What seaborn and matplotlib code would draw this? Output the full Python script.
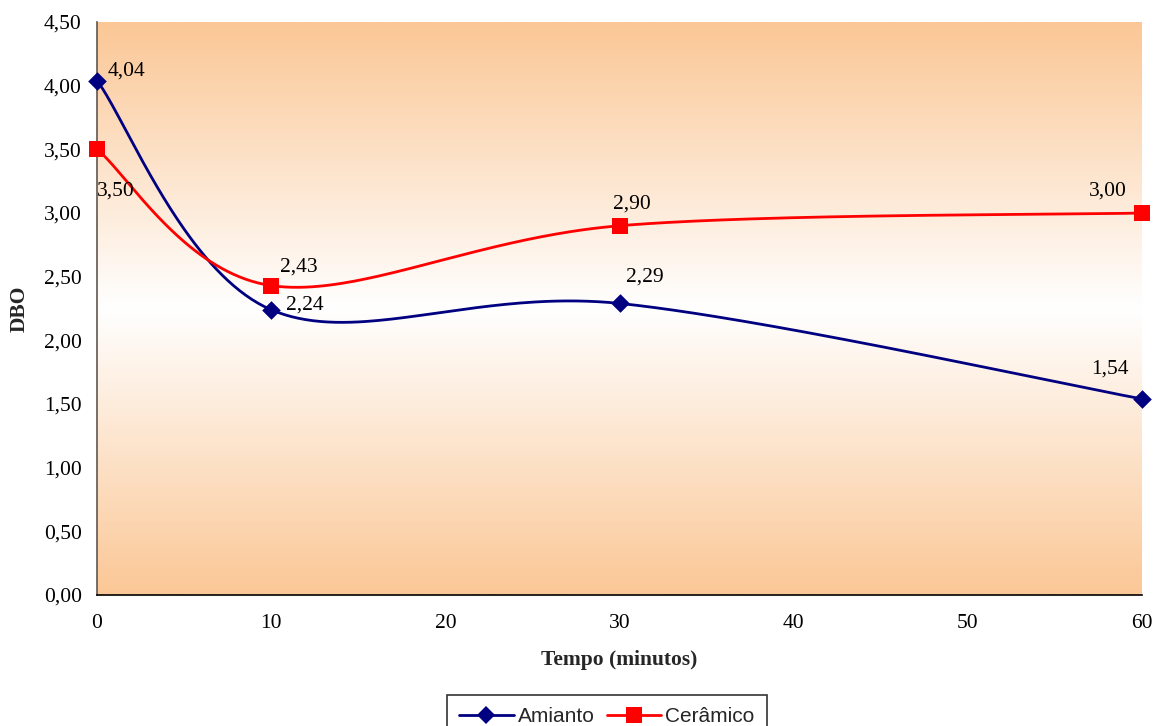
import numpy as np
import matplotlib
matplotlib.use('Agg')
import matplotlib.pyplot as plt
import seaborn as sns
from matplotlib.lines import Line2D
from matplotlib.colors import LinearSegmentedColormap

# ---- data ----
tempo = [0, 10, 30, 60]
amianto = [4.04, 2.24, 2.29, 1.54]
ceramico = [3.50, 2.43, 2.90, 3.00]
series_names = ['Amianto', 'Cerâmico']
yticks = [0.0, 0.5, 1.0, 1.5, 2.0, 2.5, 3.0, 3.5, 4.0, 4.5]
xticks = [0, 10, 20, 30, 40, 50, 60]
xlabel = 'Tempo (minutos)'
ylabel = 'DBO'

sns.set_theme(style='white')
plt.rcParams['font.family'] = ['Liberation Serif', 'DejaVu Serif']

FS = 15.5

fig = plt.figure(figsize=(11.55, 7.26), dpi=100)
ax = fig.add_axes([97/1155, 1-595/726, (1142-97)/1155, (595-22)/726])
ax.set_xlim(0, 60)
ax.set_ylim(0, 4.5)

# gradient background
cmap = LinearSegmentedColormap.from_list('g', ['#FBC796', '#FFFFFF', '#FBC796'])
grad = np.linspace(0, 1, 256).reshape(-1, 1)
ax.imshow(grad, cmap=cmap, aspect='auto', extent=[0, 60, 0, 4.5], zorder=0)


def smooth(xs, ys, n=80):
    pts = ax.transData.transform(np.column_stack([xs, ys]))
    P = np.vstack([pts[0], pts, pts[-1]])
    out = []
    t = np.linspace(0, 1, n)[:, None]
    for i in range(1, len(P) - 2):
        p0, p1, p2, p3 = P[i - 1], P[i], P[i + 1], P[i + 2]
        c1 = p1 + (p2 - p0) / 6
        c2 = p2 - (p3 - p1) / 6
        seg = (1 - t) ** 3 * p1 + 3 * (1 - t) ** 2 * t * c1 + 3 * (1 - t) * t ** 2 * c2 + t ** 3 * p2
        out.append(seg)
    out = np.vstack(out)
    return ax.transData.inverted().transform(out)


colors = ['#000080', '#FF0000']
markers = ['D', 's']
sizes = [90, 130]
for vals, c, m, s in zip([amianto, ceramico], colors, markers, sizes):
    sm = smooth(tempo, vals)
    ax.plot(sm[:, 0], sm[:, 1], color=c, lw=2, zorder=3, solid_capstyle='round')
    sns.scatterplot(x=tempo, y=vals, marker=m, color=c, s=s, edgecolor=c,
                    linewidth=0, ax=ax, zorder=4, clip_on=False)

# data labels (pixel offsets)
offs_a = [(29, -10), (34, -5), (25, -26), (-32, -30)]
offs_c = [(19, 42), (28, -19), (12, -22), (-34, -22)]
for vals, offs in [(amianto, offs_a), (ceramico, offs_c)]:
    for x, y, (dx, dy) in zip(tempo, vals, offs):
        ax.annotate(f'{y:.2f}'.replace('.', ','), (x, y), xytext=(dx * 0.72, -dy * 0.72),
                    textcoords='offset points', ha='center', va='center',
                    fontsize=FS, color='black', zorder=6)

ax.set_xticks(xticks)
ax.set_yticks(yticks)
ax.set_yticklabels([f'{v:.2f}'.replace('.', ',') for v in yticks])
ax.tick_params(axis='both', labelsize=FS, colors='black', direction='out', length=6, width=1)
ax.tick_params(axis='y', pad=5)
ax.tick_params(axis='x', pad=8)

for sp in ['top', 'right']:
    ax.spines[sp].set_visible(False)
ax.spines['left'].set_color('#605850')
ax.spines['bottom'].set_color('black')
ax.spines['left'].set_linewidth(1.2)
ax.spines['bottom'].set_linewidth(1.2)

ax.set_xlabel(xlabel, fontsize=FS, fontweight='bold', labelpad=12)
ax.set_ylabel(ylabel, fontsize=FS, fontweight='bold', labelpad=10)

handles = [Line2D([], [], color=c, marker=m, markersize=ms, lw=2, markeredgewidth=0)
           for c, m, ms in zip(colors, markers, [9, 11])]
leg = fig.legend(handles, series_names, loc='upper center', bbox_to_anchor=(607/1155, 1 - 695/726),
                 ncol=2, frameon=True, fancybox=False, edgecolor='black',
                 prop={'family': 'Liberation Sans', 'size': 15}, handlelength=2.6,
                 columnspacing=0.6, handletextpad=0.2, borderpad=0.6, borderaxespad=0)
leg.get_frame().set_linewidth(1.2)

fig.savefig('out.png', dpi=100)
